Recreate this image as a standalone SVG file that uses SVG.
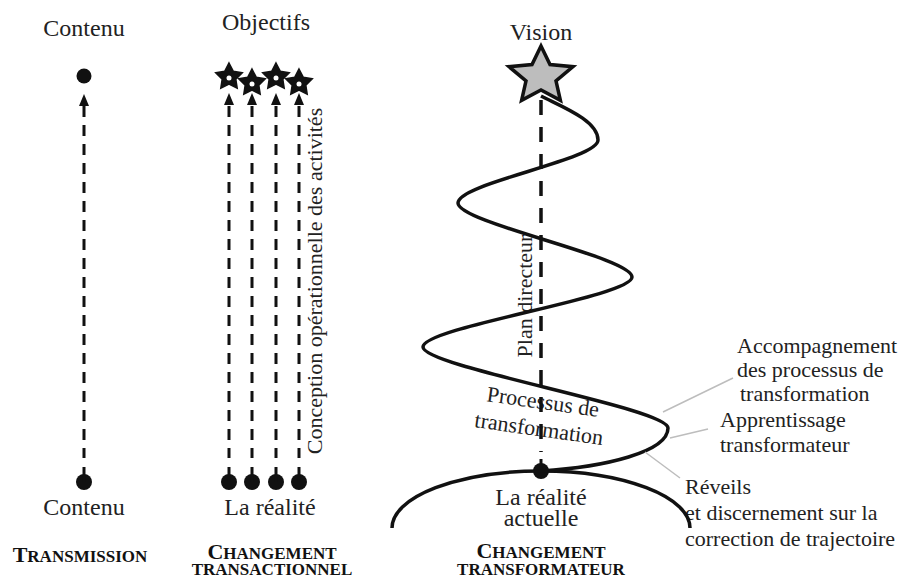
<svg xmlns="http://www.w3.org/2000/svg" xmlns:xlink="http://www.w3.org/1999/xlink" width="922" height="579" viewBox="0 0 922 579">
<style>
text{font-family:"Liberation Serif","Times New Roman",serif;font-size:22px;fill:#222}
.c{text-anchor:middle}
.lg{font-size:24px}
.sc{font-weight:bold;font-size:17px;fill:#111;text-anchor:middle}
.big{font-size:22px}
.dash{fill:none;stroke:#111;stroke-width:3;stroke-dasharray:11 8}
.dash2{fill:none;stroke:#111;stroke-width:3.5;stroke-dasharray:15 12}
.stem{stroke:#111;stroke-width:3}
.curve{fill:none;stroke:#111;stroke-width:3.5}
.lead{stroke:#bdbdbd;stroke-width:1.5;fill:none}
.dot{fill:#111}
.sstar{fill:#111;stroke:#111;stroke-width:1.5;stroke-linejoin:miter}
.hole{fill:#fff}
</style>
<defs>
<polygon id="ah" points="0,0 -5,12 5,12" fill="#111"/>
<polygon id="st" points="0,-14 4.2,-5.8 13.3,-4.3 6.8,2.2 8.2,11.3 0,7.2 -8.2,11.3 -6.8,2.2 -13.3,-4.3 -4.2,-5.8"/>
</defs>

<g id="transmission">
<text class="c lg" x="84" y="36">Contenu</text>
<circle class="dot" cx="84" cy="76" r="7.5"/>
<circle class="dot" cx="84" cy="482" r="8"/>
<text class="c lg" x="84" y="515">Contenu</text>
<text class="sc" x="80" y="562"><tspan class="big">T</tspan>RANSMISSION</text>
</g>

<g id="transactionnel">
<text class="c lg" x="266" y="30">Objectifs</text>
<use xlink:href="#st" class="sstar" x="229" y="77"/>
<use xlink:href="#st" class="sstar" x="252" y="83"/>
<use xlink:href="#st" class="sstar" x="276" y="77"/>
<use xlink:href="#st" class="sstar" x="299" y="83"/>
<circle class="hole" cx="229" cy="78" r="2.5"/>
<circle class="hole" cx="252" cy="84" r="2.5"/>
<circle class="hole" cx="276" cy="78" r="2.5"/>
<circle class="hole" cx="299" cy="84" r="2.5"/>
<circle class="dot" cx="229" cy="482" r="8"/>
<circle class="dot" cx="252" cy="482" r="8"/>
<circle class="dot" cx="276" cy="482" r="8"/>
<circle class="dot" cx="299" cy="482" r="8"/>
<text class="c lg" x="270" y="515">La réalité</text>
<text transform="translate(322,281) rotate(-90)" class="c">Conception opérationnelle des activités</text>
<text class="sc" x="272" y="559"><tspan class="big">C</tspan>HANGEMENT</text>
<text class="sc" x="272" y="575">TRANSACTIONNEL</text>
</g>

<g id="transformateur">
<text class="c lg" x="541" y="40">Vision</text>
<polygon points="541,46 550,64.5 573,66.7 556,81 560.4,100.3 541,90 521.6,100.3 526,81 509,66.7 532,64.5" fill="#bdbdbd" stroke="#111" stroke-width="3.5" stroke-linejoin="miter"/>
<text transform="translate(532,296) rotate(-90)" class="c">Plan directeur</text>
<text transform="translate(542,409) rotate(8)" class="c">Processus de</text>
<text transform="translate(538,436) rotate(8)" class="c">transformation</text>
<circle class="dot" cx="541" cy="471" r="8"/>
<text class="c lg" x="541" y="505">La réalité</text>
<text class="c lg" x="541" y="526">actuelle</text>
<text class="sc" x="541" y="558"><tspan class="big">C</tspan>HANGEMENT</text>
<text class="sc" x="541" y="575">TRANSFORMATEUR</text>
</g>

<g id="accompagnement">
<text x="737" y="353">Accompagnement</text>
<text x="737" y="377">des processus de</text>
<text x="740" y="401">transformation</text>
</g>
<g id="apprentissage">
<text x="720" y="427">Apprentissage</text>
<text x="720" y="452">transformateur</text>
</g>
<g id="reveils">
<text x="685" y="494">Réveils</text>
<text x="685" y="520">et discernement sur la</text>
<text x="685" y="546">correction de trajectoire</text>
</g>

<g id="connectors">
<path class="dash" d="M84,106 V458"/>
<use xlink:href="#ah" x="84" y="94"/>
<path class="stem" d="M84,467 V482"/>
<path class="dash" d="M229,106 V458"/>
<path class="dash" d="M252,106 V458"/>
<path class="dash" d="M276,106 V458"/>
<path class="dash" d="M299,106 V458"/>
<use xlink:href="#ah" x="229" y="93"/>
<use xlink:href="#ah" x="252" y="93"/>
<use xlink:href="#ah" x="276" y="93"/>
<use xlink:href="#ah" x="299" y="93"/>
<path class="stem" d="M229,467 V482 M252,467 V482 M276,467 V482 M299,467 V482"/>
<path class="dash2" d="M541,100 V452"/>
<path class="stem" d="M541,459 V471"/>
<path class="curve" d="M541,96 C560,106 598,120 598,140 C598,160 458,183 458,203 C458,223 632,257 632,277 C632,297 423,327 423,347 C423,367 668,408 668,428 C668,452 605,467 541,471"/>
<path class="curve" d="M392,528 A149,57 0 0 1 690,528"/>
<path class="lead" d="M663,412 L733,378 M670,438 L708,429 M645,452 L680,478"/>
</g>
</svg>
